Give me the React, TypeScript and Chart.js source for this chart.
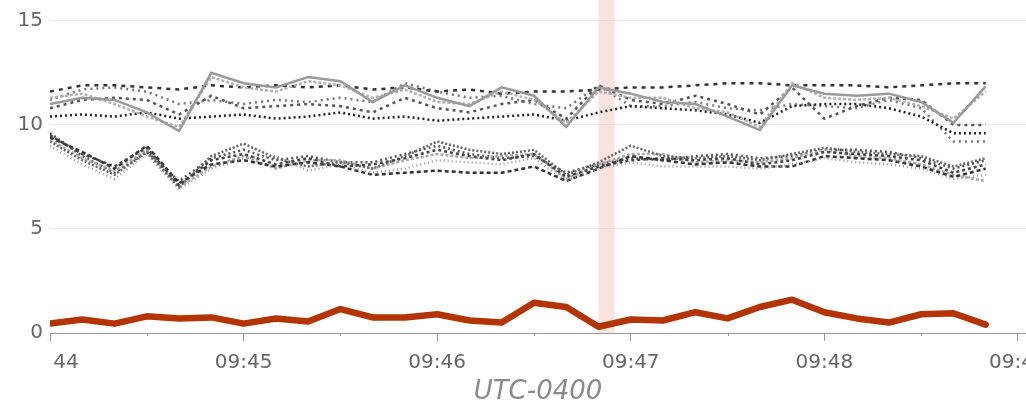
import React, { useEffect, useRef } from 'react';
import { Chart, registerables } from 'chart.js';

Chart.register(...registerables);

// seconds after 09:44:00
const seconds = [0, 10, 20, 30, 40, 50, 60, 70, 80, 90, 100, 110, 120, 130, 140, 150, 160, 170, 180, 190, 200, 210, 220, 230, 240, 250, 260, 270, 280, 290];

const xTickValues = [0, 60, 120, 180, 240, 300];
const xTickLabels = ['09:44', '09:45', '09:46', '09:47', '09:48', '09:49'];
const xMinorTicks = [30, 90, 150, 210, 270];
const yTickValues = [0, 5, 10, 15];
const highlightRange = [170, 175];

const mainSeries = [0.45, 0.65, 0.45, 0.8, 0.7, 0.75, 0.45, 0.7, 0.55, 1.15, 0.75, 0.75, 0.9, 0.6, 0.5, 1.45, 1.25, 0.3, 0.65, 0.6, 1.0, 0.7, 1.25, 1.6, 1.0, 0.7, 0.5, 0.9, 0.95, 0.4];

const upper1 = [11.0, 11.3, 11.2, 10.6, 9.7, 12.5, 12.0, 11.8, 12.3, 12.1, 11.1, 11.9, 11.3, 10.9, 11.8, 11.4, 9.9, 11.8, 11.5, 11.1, 11.0, 10.4, 9.75, 11.9, 11.5, 11.4, 11.5, 11.1, 10.1, 11.85];
const upper2 = [11.3, 11.5, 11.0, 10.4, 9.9, 12.3, 11.8, 11.6, 12.1, 11.9, 11.3, 11.7, 11.1, 11.0, 11.6, 11.2, 10.1, 11.6, 11.3, 11.3, 10.8, 10.6, 9.9, 12.0, 11.3, 11.2, 11.3, 10.9, 10.3, 11.6];
const upper3 = [11.6, 11.9, 11.9, 11.8, 11.7, 11.9, 11.8, 11.9, 11.8, 11.9, 11.7, 11.8, 11.6, 11.7, 11.5, 11.6, 11.6, 11.7, 11.8, 11.8, 11.9, 12.0, 12.0, 11.9, 11.9, 11.9, 11.8, 11.9, 12.0, 12.0];
const upper4 = [10.8, 11.2, 11.3, 11.2, 10.5, 11.4, 10.8, 10.9, 11.0, 10.9, 10.6, 11.3, 10.8, 10.6, 11.0, 11.2, 10.3, 11.9, 11.2, 11.0, 11.4, 11.0, 10.5, 11.8, 10.3, 10.9, 11.3, 11.2, 10.0, 10.0];
const upper5 = [10.4, 10.5, 10.4, 10.6, 10.3, 10.4, 10.5, 10.3, 10.4, 10.6, 10.3, 10.4, 10.2, 10.3, 10.4, 10.5, 10.2, 10.6, 10.9, 10.8, 10.7, 10.5, 10.1, 10.9, 11.0, 11.0, 10.8, 10.4, 9.6, 9.6];
const upper6 = [11.2, 11.7, 11.8, 11.6, 11.0, 11.2, 11.0, 11.2, 11.1, 11.3, 11.1, 12.0, 11.6, 11.3, 11.4, 11.0, 10.8, 11.9, 10.9, 10.9, 11.1, 10.8, 10.7, 11.0, 10.9, 10.8, 11.2, 10.8, 9.2, 9.2];

const lower1 = [9.5, 8.6, 8.0, 8.9, 7.1, 8.3, 8.6, 8.1, 8.4, 8.0, 8.1, 8.4, 8.8, 8.5, 8.3, 8.6, 7.5, 8.0, 8.3, 8.4, 8.3, 8.4, 8.1, 8.3, 8.7, 8.6, 8.5, 8.3, 7.7, 8.1];
const lower2 = [9.2, 8.3, 7.6, 8.7, 7.0, 8.5, 9.1, 8.4, 8.0, 8.2, 7.9, 8.5, 9.2, 8.8, 8.6, 8.8, 7.6, 8.2, 9.0, 8.5, 8.4, 8.5, 8.3, 8.6, 8.9, 8.7, 8.6, 8.5, 8.0, 8.4];
const lower3 = [9.0, 8.1, 7.4, 8.6, 6.9, 7.9, 8.4, 8.5, 7.8, 8.1, 7.7, 7.9, 8.3, 8.2, 8.1, 8.4, 7.3, 7.9, 8.2, 8.0, 8.0, 8.0, 7.9, 8.1, 8.4, 8.2, 8.1, 7.9, 7.4, 7.6];
const lower4 = [9.4, 8.7, 7.9, 9.0, 7.2, 8.1, 8.3, 8.0, 8.2, 8.0, 7.6, 7.7, 7.8, 7.7, 7.7, 8.0, 7.3, 7.9, 8.5, 8.3, 8.1, 8.2, 8.0, 8.0, 8.5, 8.4, 8.3, 8.0, 7.5, 7.9];
const lower5 = [9.3, 8.4, 7.8, 8.8, 7.0, 8.0, 8.5, 7.9, 8.3, 8.3, 7.9, 8.3, 8.6, 8.4, 8.5, 8.6, 7.4, 8.1, 8.6, 8.6, 8.2, 8.3, 8.2, 8.4, 8.8, 8.5, 8.4, 8.1, 7.6, 7.3];
const lower6 = [9.6, 8.5, 7.7, 8.7, 7.3, 8.4, 8.8, 8.3, 8.5, 8.2, 8.2, 8.6, 9.0, 8.6, 8.4, 8.5, 7.7, 8.1, 8.4, 8.3, 8.5, 8.6, 8.4, 8.5, 8.8, 8.8, 8.7, 8.4, 7.9, 8.3];

const graySeries = [
  { values: upper1, color: '#9a9a9a', dash: [] as number[], width: 2.5 },
  { values: upper2, color: '#b0b0b0', dash: [3, 2], width: 2.5 },
  { values: upper3, color: '#333333', dash: [4, 5], width: 2.5 },
  { values: upper4, color: '#555555', dash: [3, 4], width: 2.5 },
  { values: upper5, color: '#222222', dash: [2, 3], width: 2.5 },
  { values: upper6, color: '#777777', dash: [2, 4], width: 2.5 },
  { values: lower1, color: '#444444', dash: [3, 3], width: 2.5 },
  { values: lower2, color: '#666666', dash: [2, 2], width: 2.5 },
  { values: lower3, color: '#999999', dash: [1, 3], width: 2.5 },
  { values: lower4, color: '#333333', dash: [4, 3], width: 2.5 },
  { values: lower5, color: '#aaaaaa', dash: [3, 2], width: 2.5 },
  { values: lower6, color: '#555555', dash: [2, 3], width: 2.5 },
];

const FONT = 'DejaVu Sans';

const toPoints = (vals: number[]) => vals.map((v, i) => ({ x: seconds[i], y: v }));

const decorPlugin = {
  id: 'decor',
  beforeDatasetsDraw(chart: any) {
    const { ctx, chartArea, scales } = chart;
    const x = scales.x;
    const x1 = x.getPixelForValue(highlightRange[0]);
    const x2 = x.getPixelForValue(highlightRange[1]);
    ctx.save();
    ctx.fillStyle = 'rgba(250, 190, 190, 0.45)';
    ctx.fillRect(x1, chartArea.top, x2 - x1, chartArea.bottom - chartArea.top);
    ctx.restore();
  },
  afterDraw(chart: any) {
    const { ctx, chartArea, scales } = chart;
    const x = scales.x;
    ctx.save();
    // minor ticks
    ctx.strokeStyle = '#999999';
    ctx.lineWidth = 1;
    xMinorTicks.forEach((v) => {
      const px = Math.round(x.getPixelForValue(v)) + 0.5;
      ctx.beginPath();
      ctx.moveTo(px, chartArea.bottom);
      ctx.lineTo(px, chartArea.bottom + 3);
      ctx.stroke();
    });
    // hide the part of the first label left of the plot
    ctx.fillStyle = '#ffffff';
    ctx.fillRect(0, chartArea.bottom + 11, chartArea.left + 2, 30);
    ctx.restore();
  },
};

export default function App() {
  const ref = useRef<HTMLCanvasElement | null>(null);

  useEffect(() => {
    document.body.style.margin = '0';
    if (!ref.current) return;
    const datasets: any[] = [
      {
        data: toPoints(mainSeries),
        borderColor: '#b33400',
        borderWidth: 6.5,
        pointRadius: 0,
        tension: 0,
        borderJoinStyle: 'round',
        borderCapStyle: 'round',
      },
      ...graySeries.map((s) => ({
        data: toPoints(s.values),
        borderColor: s.color,
        borderWidth: s.width,
        borderDash: s.dash,
        pointRadius: 0,
        tension: 0,
      })),
    ];
    const chart = new Chart(ref.current, {
      type: 'line',
      data: { datasets },
      options: {
        animation: false,
        responsive: true,
        maintainAspectRatio: false,
        layout: { padding: 0 },
        plugins: { legend: { display: false }, tooltip: { enabled: false } },
        scales: {
          x: {
            type: 'linear',
            min: 0,
            max: 302.5,
            afterBuildTicks: (s: any) => {
              s.ticks = xTickValues.map((v) => ({ value: v }));
            },
            afterFit: (s: any) => {
              s.paddingLeft = 0;
              s.paddingRight = 0;
              s.height = 74;
            },
            ticks: {
              autoSkip: false,
              maxRotation: 0,
              padding: 10,
              color: '#666666',
              font: { family: FONT, size: 20 },
              callback: (v: any) => {
                const i = xTickValues.indexOf(Number(v));
                return i >= 0 ? xTickLabels[i] : '';
              },
            },
            grid: { drawOnChartArea: false, tickLength: 8, color: '#999999' },
            border: { color: '#999999' },
            title: {
              display: true,
              text: 'UTC-0400',
              color: '#8a8a8a',
              font: { family: FONT, size: 26, style: 'italic', lineHeight: 1.1 },
              padding: { top: 0, bottom: 0 },
            },
          },
          y: {
            min: 0,
            max: 16,
            afterBuildTicks: (s: any) => {
              s.ticks = yTickValues.map((v) => ({ value: v }));
            },
            afterFit: (s: any) => {
              s.width = 50;
              s.paddingTop = 0;
              s.paddingBottom = 0;
            },
            ticks: {
              padding: 7,
              color: '#666666',
              font: { family: FONT, size: 20 },
            },
            grid: { color: '#e8e8e8', drawTicks: false },
            border: { display: false },
          },
        },
      },
      plugins: [decorPlugin],
    });
    return () => chart.destroy();
  }, []);

  return (
    <div style={{ position: 'absolute', left: 0, top: 0, width: 1026, height: 407 }}>
      <canvas ref={ref} />
    </div>
  );
}
